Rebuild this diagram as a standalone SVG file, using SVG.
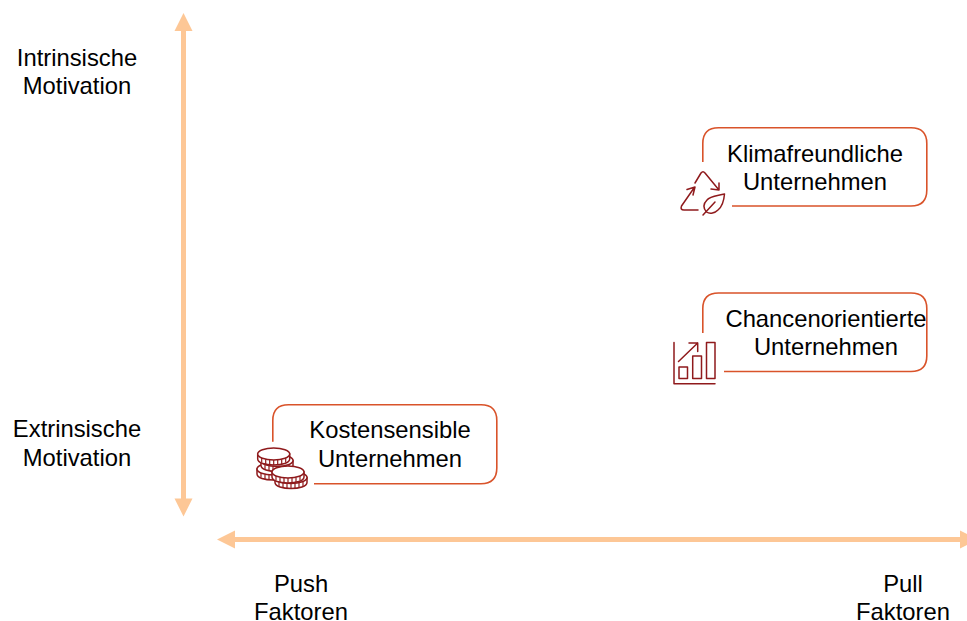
<svg xmlns="http://www.w3.org/2000/svg" width="967" height="621" viewBox="0 0 967 621">
<style>
text{font-family:"Liberation Sans",Arial,sans-serif;font-size:23.8px;fill:#000;text-anchor:middle}
.axis{fill:none;stroke:#fdc796;stroke-width:5}
.head{fill:#fdc796}
.box{fill:none;stroke:#d9532a;stroke-width:1.6}
.ic{fill:none;stroke:#8f1a1c;stroke-width:1.5;stroke-linecap:round;stroke-linejoin:round}
.coin{fill:#fff;stroke:#8f1a1c;stroke-width:1.5}
.tick{fill:none;stroke:#8f1a1c;stroke-width:1.2}
</style>
<defs>
<g id="coin">
<path class="coin" d="M-16 0V5C-16 13 16 13 16 5V0Z"/>
<ellipse class="coin" rx="16" ry="6"/>
<path class="tick" d="M-12 4V8.500M-8 5.200V10M-4 5.800V10.800M0 6V11M4 5.800V10.800M8 5.200V10M12 4V8.500"/>
</g>
</defs>
<rect width="967" height="621" fill="#fff"/>
<g id="connectors">
<path class="axis" d="M183.500 30V500"/>
<path class="head" d="M183.500 13L192.500 31H174.500Z"/>
<path class="head" d="M183.500 516.500L192.500 498.500H174.500Z"/>
<path class="axis" d="M233 539.500H962"/>
<path class="head" d="M217 539.500L235 530.500V548.500Z"/>
<path class="head" d="M978 539.500L960 530.500V548.500Z"/>
</g>
<g id="label-intrinsisch"><text x="77" y="66">Intrinsische</text><text x="77" y="94">Motivation</text></g>
<g id="label-extrinsisch"><text x="77" y="437">Extrinsische</text><text x="77" y="466">Motivation</text></g>
<g id="label-push"><text x="301" y="592">Push</text><text x="301" y="620">Faktoren</text></g>
<g id="label-pull"><text x="903" y="592">Pull</text><text x="903" y="620">Faktoren</text></g>
<g id="node-klima">
<path class="box" d="M702.800 162V143.500Q702.800 127.800 718.500 127.800H911Q926.800 127.800 926.800 143.500V190Q926.800 206 911 206H732"/>
<text x="815" y="162">Klimafreundliche</text><text x="815" y="190">Unternehmen</text>
<g class="ic">
<path d="M695 183L701 173Q703 170.500 705 173L719 190M711 189L719 190L719 183"/>
<path d="M694 188L681.500 206Q680 210 684 210H698M687 189.500L695 187L693 195"/>
<path d="M724.500 194C716 196 710 196 707 200C703 204 703 208 706.500 212C710 214.500 715 213 718 210C723 206 724 200 724.500 194Z"/>
<path d="M703 215L715 202"/>
</g>
</g>
<g id="node-chance">
<path class="box" d="M702.800 333V308.500Q702.800 293 718.500 293H911Q926.800 293 926.800 308.500V356Q926.800 371.500 911 371.500H724"/>
<text x="826" y="327">Chancenorientierte</text><text x="826" y="355">Unternehmen</text>
<g class="ic">
<path d="M674 342.500V383.700H715"/>
<path d="M679 367H687.500V378.500H679ZM692.700 356H701.500V378.500H692.700ZM706.500 342.500H715V378.500H706.500Z"/>
<path d="M678.500 361.500L697.700 343M689 343H697.700V351.500"/>
</g>
</g>
<g id="node-kosten">
<path class="box" d="M272.800 441.700V420.500Q272.800 404.800 288.500 404.800H481Q496.800 404.800 496.800 420.500V468Q496.800 483.700 481 483.700H314"/>
<text x="390" y="438">Kostensensible</text><text x="390" y="467">Unternehmen</text>
<g>
<use href="#coin" x="273" y="469"/>
<use href="#coin" x="277" y="460.500"/>
<use href="#coin" x="273.700" y="454"/>
<use href="#coin" x="291" y="477.500"/>
<use href="#coin" x="288" y="472"/>
</g>
</g>
</svg>
